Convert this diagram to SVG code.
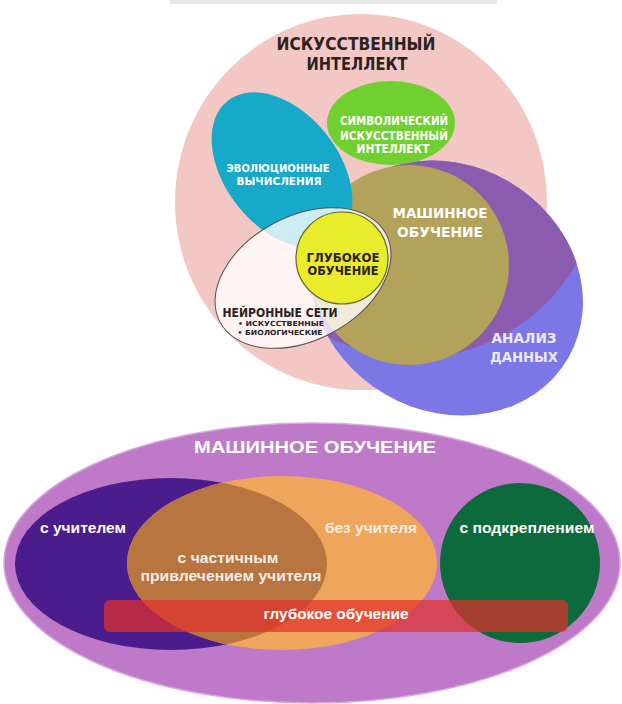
<svg xmlns="http://www.w3.org/2000/svg" width="622" height="704" viewBox="0 0 622 704">
<style>
.t{font-family:"DejaVu Sans","Liberation Sans",sans-serif;font-weight:bold;text-anchor:middle}
.d{fill:#2b2222}
.w{fill:#ffffff}
.b{font-family:"Liberation Sans Narrow","Liberation Sans",sans-serif;font-weight:bold;text-anchor:middle;fill:#ffffff}
</style>
<defs>
<clipPath id="pinkClip"><ellipse cx="361" cy="202" rx="186" ry="188"/></clipPath>
<clipPath id="orangeClip"><ellipse cx="282" cy="563" rx="155" ry="87"/></clipPath>
</defs>
<rect x="170" y="0" width="327" height="4" fill="#e6e6e6"/>
<g id="ai">
<ellipse cx="361" cy="202" rx="186" ry="188" fill="#f3c7c3"/>
</g>
<g id="data-analysis">
<ellipse cx="447" cy="288" rx="140" ry="123" transform="rotate(30 447 288)" fill="#7b77e6"/>
<ellipse cx="447" cy="288" rx="140" ry="123" transform="rotate(30 447 288)" fill="#8b5bb0" clip-path="url(#pinkClip)"/>
</g>
<g id="ml-top">
<circle cx="409" cy="265" r="100" fill="#b3a25a"/>
</g>
<g id="evo">
<ellipse cx="282" cy="170" rx="88" ry="57" transform="rotate(52 282 170)" fill="#17a9c9"/>
</g>
<g id="symbolic">
<ellipse cx="391" cy="123" rx="64" ry="42" fill="#6fd030"/>
</g>
<g id="neural">
<ellipse cx="303" cy="278" rx="94" ry="62" transform="rotate(-28 303 278)" fill="#ffffff" fill-opacity="0.78" stroke="#5a5050" stroke-width="1"/>
</g>
<g id="deep-top">
<circle cx="342" cy="258" r="46" fill="#e9ec2a" stroke="#6b6420" stroke-width="1.2"/>
</g>
<g id="labels-top">
<text class="t d" x="356" y="50" font-size="17" textLength="159" lengthAdjust="spacingAndGlyphs">ИСКУССТВЕННЫЙ</text>
<text class="t d" x="357" y="70" font-size="17" textLength="101" lengthAdjust="spacingAndGlyphs">ИНТЕЛЛЕКТ</text>
<text class="t w" x="394" y="125" font-size="12" textLength="108" lengthAdjust="spacingAndGlyphs">СИМВОЛИЧЕСКИЙ</text>
<text class="t w" x="394" y="140" font-size="12" textLength="108" lengthAdjust="spacingAndGlyphs">ИСКУССТВЕННЫЙ</text>
<text class="t w" x="393" y="153" font-size="12" textLength="73" lengthAdjust="spacingAndGlyphs">ИНТЕЛЛЕКТ</text>
<text class="t w" x="278" y="172" font-size="11" textLength="103" lengthAdjust="spacingAndGlyphs">ЭВОЛЮЦИОННЫЕ</text>
<text class="t w" x="279" y="185" font-size="11" textLength="85" lengthAdjust="spacingAndGlyphs">ВЫЧИСЛЕНИЯ</text>
<text class="t w" x="440" y="218" font-size="14" textLength="95" lengthAdjust="spacingAndGlyphs">МАШИННОЕ</text>
<text class="t w" x="440" y="237" font-size="14" textLength="86" lengthAdjust="spacingAndGlyphs">ОБУЧЕНИЕ</text>
<text class="t d" x="343" y="262" font-size="12" textLength="73" lengthAdjust="spacingAndGlyphs">ГЛУБОКОЕ</text>
<text class="t d" x="343" y="275" font-size="12" textLength="71" lengthAdjust="spacingAndGlyphs">ОБУЧЕНИЕ</text>
<text class="t d" x="280" y="317" font-size="12" textLength="115" lengthAdjust="spacingAndGlyphs">НЕЙРОННЫЕ СЕТИ</text>
<text class="t d" x="281" y="326" font-size="7" textLength="86" lengthAdjust="spacingAndGlyphs">• ИСКУССТВЕННЫЕ</text>
<text class="t d" x="280" y="335" font-size="7" textLength="85" lengthAdjust="spacingAndGlyphs">• БИОЛОГИЧЕСКИЕ</text>
<text class="t" x="524" y="343" font-size="14" fill="#f0e8ff" textLength="65" lengthAdjust="spacingAndGlyphs">АНАЛИЗ</text>
<text class="t" x="524" y="362" font-size="14" fill="#f0e8ff" textLength="68" lengthAdjust="spacingAndGlyphs">ДАННЫХ</text>
</g>
<g id="ml-bottom">
<ellipse cx="312" cy="563" rx="308" ry="140" fill="#be7ac8" stroke="#d9a6df" stroke-width="1.5"/>
<text class="b" x="315" y="453" font-size="17" textLength="242" lengthAdjust="spacingAndGlyphs">МАШИННОЕ ОБУЧЕНИЕ</text>
</g>
<g id="supervised">
<ellipse cx="171" cy="564" rx="156" ry="86" fill="#4b1c8c"/>
</g>
<g id="unsupervised">
<ellipse cx="282" cy="563" rx="155" ry="87" fill="#efa65c"/>
<ellipse cx="171" cy="564" rx="156" ry="86" fill="#b8753f" clip-path="url(#orangeClip)"/>
</g>
<g id="reinforcement">
<ellipse cx="520" cy="563" rx="80" ry="80" fill="#0c6a3d"/>
</g>
<g id="deep-bottom">
<rect x="104" y="600" width="464" height="32" rx="6" fill="#e0302c" fill-opacity="0.72"/>
</g>
<g id="labels-bottom">
<text class="b" x="83" y="533" font-size="14" textLength="86" lengthAdjust="spacingAndGlyphs">с учителем</text>
<text class="b" x="371" y="533" font-size="14" fill-opacity="0.85" textLength="92" lengthAdjust="spacingAndGlyphs">без учителя</text>
<text class="b" x="527" y="533" font-size="14" textLength="135" lengthAdjust="spacingAndGlyphs">с подкреплением</text>
<text class="b" x="228" y="563" font-size="14" fill-opacity="0.9" textLength="101" lengthAdjust="spacingAndGlyphs">с частичным</text>
<text class="b" x="231" y="581" font-size="14" fill-opacity="0.9" textLength="181" lengthAdjust="spacingAndGlyphs">привлечением учителя</text>
<text class="b" x="336" y="619" font-size="14" textLength="145" lengthAdjust="spacingAndGlyphs">глубокое обучение</text>
</g>
</svg>
